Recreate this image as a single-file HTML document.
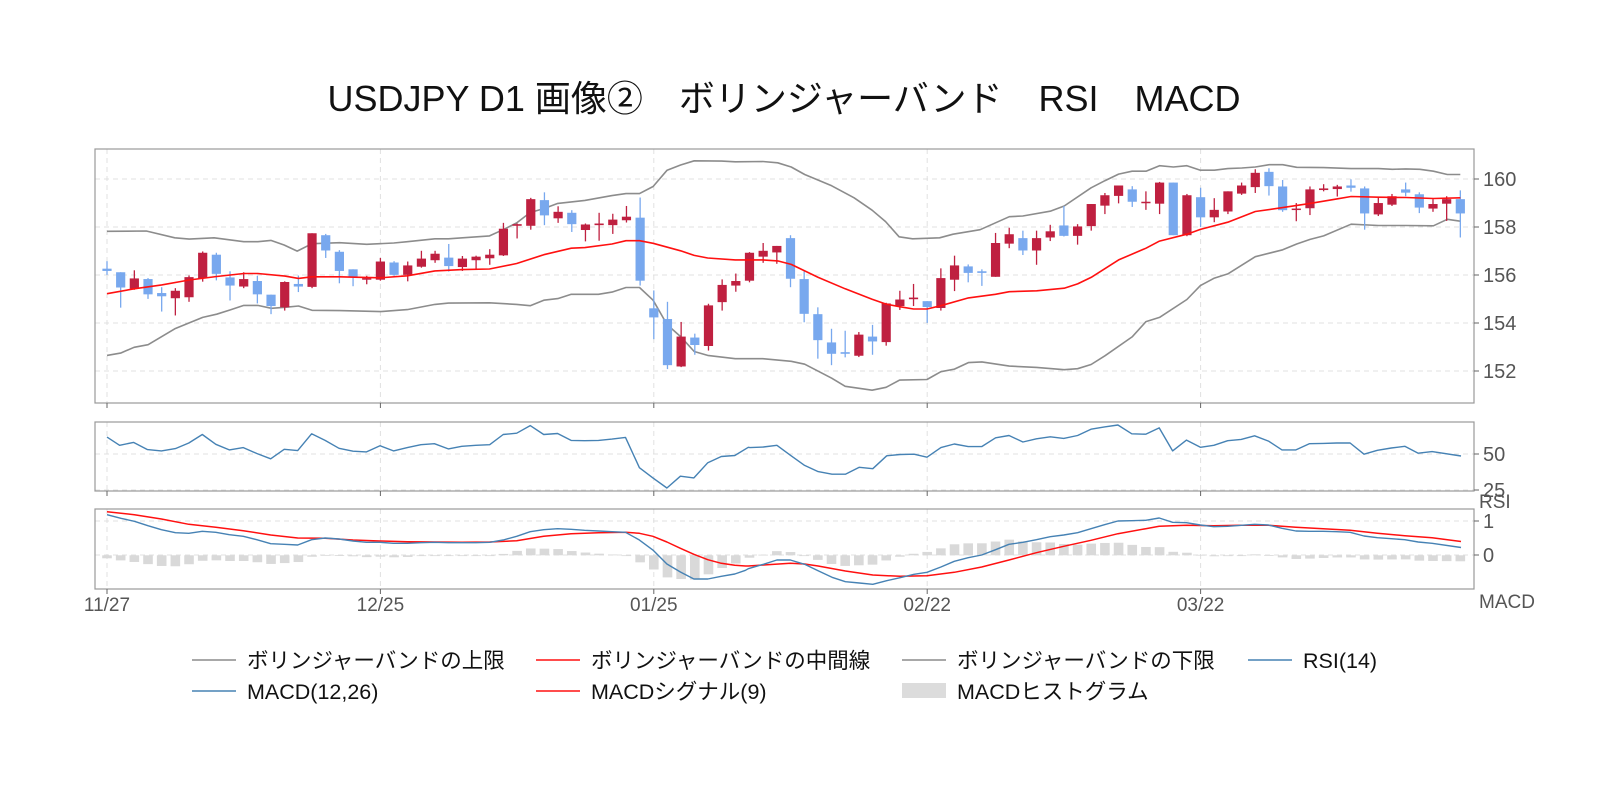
<!DOCTYPE html>
<html><head><meta charset="utf-8">
<style>
html,body{margin:0;padding:0;background:#fff;}
svg{display:block;}
text{font-family:"Liberation Sans","Noto Sans CJK JP",sans-serif;}
</style></head>
<body>
<svg id="c" width="1600" height="800" xmlns="http://www.w3.org/2000/svg">
<rect width="1600" height="800" fill="#fff"/>
<text x="784" y="111" font-size="36" text-anchor="middle" fill="#111">USDJPY D1 画像②　ボリンジャーバンド　RSI　MACD</text>
<g id="g"></g>
</svg>
<script>
var NS="http://www.w3.org/2000/svg",G=document.getElementById('g');
function el(t,a,txt){var e=document.createElementNS(NS,t);for(var k in a)e.setAttribute(k,a[k]);if(txt!==undefined)e.textContent=txt;G.appendChild(e);return e;}
var L=95,R=1474;
function bx(i){return 107+i*13.67;}
function y1(v){return 179+(v-127)*0.3249;}
function x1(v){return 107+(v-45)*0.4372;}
function x2(v){return 927+(v-362)*0.4497;}
function line(pts,col,w){el('polyline',{points:pts.map(function(p){return p[0].toFixed(1)+','+p[1].toFixed(1)}).join(' '),fill:'none',stroke:col,'stroke-width':w,'stroke-linejoin':'round'});}
var ticksX=[0,20,40,60,80];
function panel(top,bot,yg){
  ticksX.forEach(function(i){el('line',{x1:bx(i),x2:bx(i),y1:top,y2:bot,stroke:'#e0e0e0','stroke-dasharray':'5,4'});});
  yg.forEach(function(y){el('line',{x1:L,x2:R,y1:y,y2:y,stroke:'#e0e0e0','stroke-dasharray':'5,4'});});
}
panel(149,403,[179,227,275,323,371]);
panel(422,491,[454,490]);
panel(509,589,[521,555]);
var up1=[[45,288],[135,287],[200,308],[233,312],[290,308],[358,320],[390,320],[420,316],[450,330],[480,349],[514,326],[577,323],[639,328],[701,324],[732,320],[795,311],[826,311],[858,308],[920,302],[951,283],[982,262],[1013,230],[1044,218],[1076,202],[1138,193],[1200,178],[1232,172],[1263,172],[1294,150],[1326,100],[1357,84],[1388,71],[1451,72],[1482,74],[1545,73]];
var up2=[[30,77],[60,90],[90,113],[150,148],[200,185],[240,223],[270,258],[300,305],[330,311],[390,308],[420,297],[480,283],[545,243],[575,241],[636,226],[667,210],[727,154],[758,132],[788,112],[818,103],[849,103],[879,86],[910,90],[940,86],[970,100],[1001,100],[1031,95],[1062,93],[1092,90],[1123,83],[1153,83],[1184,91],[1244,92],[1305,95],[1366,95],[1397,97],[1427,96],[1458,97],[1488,103],[1519,113],[1548,113]];
var md1=[[45,480],[107,465],[170,453],[233,438],[296,427],[358,418],[390,418],[452,426],[483,433],[514,428],[577,428],[670,431],[732,425],[795,410],[858,406],[920,404],[982,387],[1044,360],[1107,340],[1138,338],[1200,327],[1232,317],[1263,317],[1294,325],[1357,348],[1388,362],[1419,370],[1482,376],[1545,376]];
var md2=[[30,379],[60,390],[120,430],[180,465],[240,497],[271,512],[301,520],[332,527],[362,527],[393,517],[454,493],[514,482],[545,474],[606,471],[667,463],[697,450],[727,430],[788,376],[849,340],[879,318],[940,297],[970,282],[1031,260],[1092,227],[1153,215],[1214,202],[1275,188],[1305,181],[1366,183],[1427,184],[1488,187],[1548,185]];
var lo1=[[45,670],[76,663],[107,645],[139,637],[200,588],[264,553],[296,543],[327,530],[358,516],[390,516],[421,525],[452,522],[483,518],[514,531],[577,532],[670,535],[732,529],[795,513],[826,509],[920,508],[982,513],[1013,517],[1044,500],[1076,495],[1107,482],[1169,482],[1200,475],[1232,461],[1263,461],[1294,500],[1326,575],[1357,612],[1388,658],[1419,670],[1482,680],[1545,680]];
var lo2=[[60,688],[90,697],[150,740],[180,765],[240,777],[271,768],[301,746],[362,744],[393,720],[423,712],[454,692],[484,690],[545,703],[606,707],[667,714],[697,711],[727,698],[758,671],[818,613],[849,566],[879,553],[940,498],[970,455],[1001,432],[1031,419],[1092,366],[1153,345],[1184,327],[1214,313],[1244,302],[1305,266],[1366,270],[1427,270],[1488,271],[1519,251],[1548,257]];
function mp(a,b){return a.map(function(p){return [x1(p[0]),y1(p[1])]}).concat(b.map(function(p){return [x2(p[0]),y1(p[1])]}));}
line(mp(up1,up2),'#8c8c8c',1.6);
line(mp(lo1,lo2),'#8c8c8c',1.6);
var c1=[[403,410,380,422,'b'],[414,461,414,523,'b'],[433,465,408,468,'r'],[435,482,432,496,'b'],[478,488,460,535,'b'],[471,494,463,547,'r'],[429,491,424,505,'r'],[354,433,350,443,'r'],[360,419,354,439,'b'],[430,455,411,501,'b'],[435,458,414,463,'r'],[441,482,425,510,'b'],[483,518,483,543,'b'],[444,522,442,532,'r'],[450,458,424,475,'b'],[294,459,294,463,'r'],[300,347,296,370,'b'],[351,410,346,448,'b'],[405,428,405,457,'b'],[432,437,425,451,'r'],[381,437,370,440,'r'],[384,422,380,425,'b'],[393,422,381,442,'r'],[372,397,348,400,'r'],[357,377,348,385,'r'],[369,395,327,412,'b'],[372,398,364,410,'r'],[366,377,363,405,'r'],[360,371,343,391,'r'],[280,362,262,364,'r'],[266,271,264,310,'r'],[189,271,185,283,'r'],[192,239,168,269,'b'],[228,248,211,262,'r'],[231,266,223,290,'b'],[267,284,264,319,'r'],[264,269,231,317,'r'],[252,269,234,296,'r'],[243,254,210,261,'r'],[246,440,184,455,'b'],[525,553,470,620,'b'],[558,700,505,712,'b'],[612,704,567,706,'r'],[615,638,603,668,'b'],[516,641,511,655,'r'],[453,506,436,532,'r'],[441,455,418,474,'r'],[354,440,352,445,'r'],[348,366,324,385,'r'],
[333,353,333,388,'r'],[309,434,300,460,'b'],[435,542,410,568,'b'],[543,623,522,680,'b'],[630,665,588,700,'b'],[660,665,594,676,'b'],[606,671,598,675,'r'],[612,627,576,668,'b'],[510,629,508,640,'r'],[498,518,471,530,'r'],[492,497,450,518,'r'],[503,521,503,570,'b'],[432,524,402,532,'r'],[393,437,363,472,'r'],[396,416,390,445,'b'],[411,416,405,456,'b'],[324,428,293,428,'r'],[297,326,277,340,'r'],[309,347,286,361,'b'],[309,347,286,391,'r'],[288,307,268,318,'r'],[270,302,210,304,'b'],[273,302,266,329,'r'],[204,272,204,286,'r'],[177,209,170,235,'r'],[147,179,147,202,'r'],[159,197,149,213,'b'],[197,201,165,222,'r'],[138,203,136,235,'r'],[138,300,138,300,'b'],[177,300,173,303,'r'],[183,245,154,275,'b'],[222,245,186,260,'r'],[165,227,165,235,'r'],[147,172,138,176,'r'],[108,152,97,170,'r'],[105,149,94,178,'b'],[150,223,130,228,'b'],[218,221,201,257,'r'],[159,217,150,238,'r'],[156,161,143,165,'r'],[150,158,145,181,'r'],[147,154,128,166,'b'],[156,233,150,283,'b'],[201,236,185,241,'r'],[180,206,173,210,'r'],[159,169,138,180,'b'],[174,215,168,232,'b'],[204,218,189,228,'r'],[189,203,180,256,'r'],[189,233,162,307,'b']];
c1.forEach(function(c,i){var x=bx(i),col=c[4]=='r'?'#bf2040':'#78a8ee';
 el('line',{x1:x,x2:x,y1:y1(c[2]),y2:y1(c[3]),stroke:col,'stroke-width':1.3});
 var t=y1(c[0]),b=y1(c[1]);if(b-t<1.5)b=t+1.5;
 el('rect',{x:x-4.6,y:t,width:9.2,height:b-t,fill:col});});
line(mp(md1,md2),'#ff1010',1.6);
function yr(v){return 422+(v-62)*0.3286;}
function xr4(v){return 107+(v-109)*0.4497;}
function xr5(v){return 927+(v-405)*0.4482;}
var r4=[[109,108],[137,133],[168,124],[199,146],[230,150],[261,143],[291,126],[321,100],[351,130],[381,147],[412,140],[442,158],[473,174],[503,145],[533,149],[564,98],[594,118],[625,142],[656,151],[686,153],[716,134],[746,150],[777,140],[807,131],[837,128],[868,144],[898,136],[929,133],[960,131],[990,100],[1020,96],[1050,73],[1080,100],[1111,97],[1141,118],[1171,119],[1202,118],[1232,114],[1262,109],[1293,201],[1323,232],[1354,263],[1384,227],[1414,232],[1445,186],[1475,167],[1505,164],[1535,139]];
var r5=[[10,140],[40,138],[70,133],[100,163],[132,194],[162,213],[193,221],[223,221],[254,200],[284,204],[315,165],[345,161],[376,160],[405,169],[436,140],[466,129],[497,137],[527,137],[558,110],[588,103],[619,123],[649,113],[680,107],[710,112],[741,103],[771,84],[801,77],[831,71],[862,98],[893,99],[923,80],[953,150],[984,117],[1015,139],[1045,133],[1076,119],[1106,115],[1136,104],[1167,120],[1197,147],[1228,147],[1258,128],[1289,127],[1319,126],[1349,126],[1380,160],[1410,148],[1441,141],[1471,136],[1501,157],[1532,152]];
var rp=r4.map(function(p){return[xr4(p[0]),yr(p[1])]}).concat(r5.map(function(p){return[xr5(p[0]),yr(p[1])]}));rp.push([1461,456]);
line(rp,'#4682b4',1.4);
function ym(v){return 509+(v-332)*0.3333;}
var m4=[[109,349],[140,360],[170,369],[200,382],[230,394],[261,403],[291,405],[321,399],[351,402],[381,409],[412,414],[442,424],[473,436],[503,438],[533,440],[564,424],[594,419],[625,422],[656,428],[686,432],[716,432],[746,435],[777,435],[807,433],[837,432],[868,433],[898,433],[929,433],[960,432],[990,425],[1020,414],[1050,400],[1080,394],[1111,391],[1141,393],[1171,396],[1202,398],[1232,400],[1262,402],[1293,425],[1323,455],[1354,497],[1384,521],[1414,542],[1445,542],[1475,534],[1505,527],[1535,511]];
var s4=[[109,340],[170,349],[230,362],[291,378],[351,387],[412,397],[473,410],[533,419],[594,420],[656,425],[716,428],[777,430],[837,431],[898,432],[960,431],[1020,427],[1080,414],[1141,406],[1202,403],[1262,402],[1293,405],[1323,414],[1354,431],[1384,450],[1414,468],[1445,484],[1475,495],[1505,501],[1535,503]];
var m5=[[0,516],[40,498],[70,485],[100,485],[132,498],[162,517],[193,537],[223,550],[254,554],[284,558],[315,547],[345,538],[376,528],[405,522],[436,506],[466,489],[497,478],[527,470],[558,454],[588,438],[619,432],[649,424],[680,415],[710,410],[741,403],[771,391],[801,379],[831,368],[862,367],[893,366],[923,359],[953,372],[984,373],[1015,380],[1045,385],[1076,384],[1106,381],[1136,378],[1167,380],[1197,390],[1228,398],[1258,399],[1289,399],[1319,400],[1349,402],[1380,413],[1410,418],[1441,421],[1471,424],[1501,431],[1532,435]];
var s5=[[0,503],[40,500],[100,495],[132,497],[162,503],[223,518],[284,530],[345,534],[405,532],[466,522],[527,506],[588,485],[649,463],[710,444],[771,426],[831,406],[893,391],[923,384],[984,381],[1045,382],[1106,381],[1167,381],[1228,387],[1289,391],[1349,396],[1410,405],[1471,412],[1532,418]];
function xm5(v){return 927+(v-405)*0.4482;}
function conv(a,b,endY){var r=a.map(function(p){return[xr4(p[0]),ym(p[1])]}).concat(b.map(function(p){return[xm5(p[0]),ym(p[1])]}));r.sort(function(p,q){return p[0]-q[0]});r.push([1461,endY]);return r;}
var MP=conv(m4,m5,547.5),SP=conv(s4,s5,541.5);
function interp(P,x){for(var k=0;k<P.length-1;k++){if(x>=P[k][0]&&x<=P[k+1][0]){var t=(x-P[k][0])/(P[k+1][0]-P[k][0]||1);return P[k][1]+t*(P[k+1][1]-P[k][1]);}}return x<P[0][0]?P[0][1]:P[P.length-1][1];}
for(var i=0;i<100;i++){var x=bx(i),d=interp(MP,x)-interp(SP,x);var z=555.3;
 var t=Math.min(z,z+d),h=Math.abs(d);if(h<0.8)h=0.8;
 el('rect',{x:x-4.8,y:t,width:9.6,height:h,fill:'#d9d9d9'});}
line(SP,'#ff1010',1.5);
line(MP,'#4682b4',1.4);
[[149,403],[422,491],[509,589]].forEach(function(p){el('rect',{x:L,y:p[0],width:R-L,height:p[1]-p[0],fill:'none',stroke:'#999','stroke-width':1.2});
 ticksX.forEach(function(i){el('line',{x1:bx(i),x2:bx(i),y1:p[1],y2:p[1]+5,stroke:'#666'});});});
function yl(y,t){el('line',{x1:R,x2:R+5,y1:y,y2:y,stroke:'#666'});el('text',{x:R+9,y:y+7,'font-size':20,fill:'#555'},t);}
yl(179,'160');yl(227,'158');yl(275,'156');yl(323,'154');yl(371,'152');
yl(454,'50');yl(490,'25');yl(521,'1');yl(555,'0');
el('text',{x:R+5,y:508,'font-size':19,fill:'#555'},'RSI');
el('text',{x:R+5,y:608,'font-size':19,fill:'#555'},'MACD');
['11/27','12/25','01/25','02/22','03/22'].forEach(function(t,k){el('text',{x:bx(ticksX[k]),y:611,'font-size':19,fill:'#555','text-anchor':'middle'},t);});
function leg(x,y,col,t,box){if(box)el('rect',{x:x,y:y-8,width:44,height:15,fill:'#dcdcdc'});else el('line',{x1:x,x2:x+44,y1:y,y2:y,stroke:col,'stroke-width':1.6});
 el('text',{x:x+55,y:y+8,'font-size':21.5,fill:'#111'},t);}
leg(192,660,'#8c8c8c','ボリンジャーバンドの上限');
leg(536,660,'#ff1010','ボリンジャーバンドの中間線');
leg(902,660,'#8c8c8c','ボリンジャーバンドの下限');
leg(1248,660,'#4682b4','RSI(14)');
leg(192,691,'#4682b4','MACD(12,26)');
leg(536,691,'#ff1010','MACDシグナル(9)');
leg(902,691,'#ccc','MACDヒストグラム',true);
</script>
</body></html>
